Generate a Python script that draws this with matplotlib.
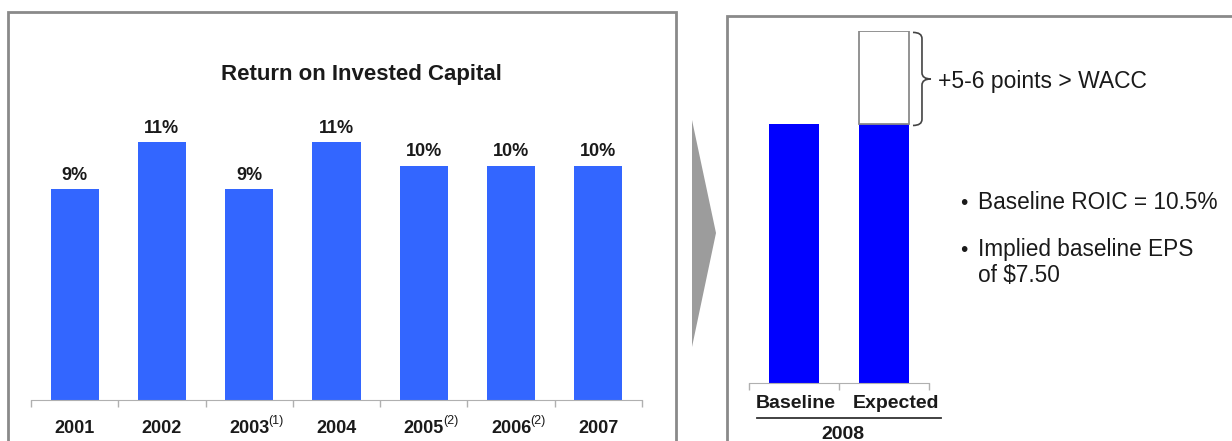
import matplotlib
matplotlib.use("Agg")
import matplotlib.pyplot as plt
from matplotlib.patches import Rectangle, Polygon, PathPatch
from matplotlib.path import Path
from matplotlib.lines import Line2D
from matplotlib.transforms import ScaledTranslation

plt.rcParams['font.family'] = ['Liberation Sans', 'DejaVu Sans']

# data
years = ["2001", "2002", "2003", "2004", "2005", "2006", "2007"]
footnotes = ["", "", "(1)", "", "(2)", "(2)", ""]
roic = [9, 11, 9, 11, 10, 10, 10]
roic_labels = ["9%", "11%", "9%", "11%", "10%", "10%", "10%"]

cases = ["Baseline", "Expected"]
baseline_roic = [10.5, 10.5]
expected_extra = [0, 3.8]

W, H = 1232, 441
fig = plt.figure(figsize=(W / 100, H / 100), dpi=100)
fig.patch.set_facecolor("white")

TXT = "#1a1a1a"
GRAY = "#8a8a8a"


def fx(x):
    return x / W


def fy(y):
    return 1 - y / H


def px_axes(x0, y0, x1, y1):
    return fig.add_axes([fx(x0), fy(y1), (x1 - x0) / W, (y1 - y0) / H])


# panel frames
fig.patches.append(Rectangle((fx(7.5), fy(460)), fx(676 - 7.5), (460 - 11.5) / H,
                             transform=fig.transFigure, fill=False, ec=GRAY, lw=2))
fig.patches.append(Rectangle((fx(727), fy(460)), fx(1260 - 727), (460 - 15.5) / H,
                             transform=fig.transFigure, fill=False, ec=GRAY, lw=2))

# grey arrow between panels
fig.patches.append(Polygon([(fx(692), fy(120)), (fx(716), fy(233)), (fx(692), fy(347))],
                           closed=True, transform=fig.transFigure, fc="#9c9c9c", ec="none"))

# left chart
ax = px_axes(31, 100, 642, 399.5)
pos = list(range(len(years)))
ax.bar(pos, roic, width=0.55, color="#3366ff", zorder=2)
for p, v, lab in zip(pos, roic, roic_labels):
    ax.annotate(lab, (p, v), xytext=(0, 6.5), textcoords="offset points",
                ha="center", va="baseline", fontsize=13, fontweight="bold", color=TXT)
ax.set_xlim(-0.5, len(years) - 0.5)
ax.set_ylim(0, 12.8)
ax.set_xticks(pos)
ax.set_xticklabels(years, fontsize=13, fontweight="bold", color=TXT)
ax.set_xticks([p - 0.5 for p in pos] + [len(years) - 0.5], minor=True)
ax.tick_params(axis="x", which="major", length=0, pad=15)
ax.tick_params(axis="x", which="minor", length=5, color="#b0b0b0", width=1)
ax.set_yticks([])
for s in ["top", "left", "right"]:
    ax.spines[s].set_visible(False)
ax.spines["bottom"].set_color("#b0b0b0")
ax.patch.set_alpha(0)

# footnote marks after some years
for p, note in zip(pos, footnotes):
    if note:
        ax.annotate(note, xy=(p, 0), xycoords=("data", "axes fraction"),
                    xytext=(13.8, -17.5), textcoords="offset points",
                    ha="left", va="baseline", fontsize=9, color=TXT)

fig.text(fx(361.5), fy(80), "Return on Invested Capital", ha="center", va="baseline",
         fontsize=16, fontweight="bold", color=TXT)

# right chart
ax2 = px_axes(749, 30.7, 929, 382.7)
pos2 = list(range(len(cases)))
ax2.bar(pos2, baseline_roic, width=0.556, color="#0000ff", zorder=2)
ax2.bar(pos2[1], expected_extra[1], bottom=baseline_roic[1], width=0.556,
        color="white", edgecolor=GRAY, linewidth=1.3, zorder=2)
ax2.set_xlim(-0.5, len(cases) - 0.5)
ax2.set_ylim(0, 14.3)
ax2.set_xticks(pos2)
ax2.set_xticklabels(cases, fontsize=14, fontweight="bold", color=TXT)
ax2.set_xticks([-0.5, 0.5, 1.5], minor=True)
ax2.tick_params(axis="x", which="major", length=0, pad=9)
ax2.tick_params(axis="x", which="minor", length=5, color="#b0b0b0", width=1)
ax2.set_yticks([])
for s in ["top", "left", "right"]:
    ax2.spines[s].set_visible(False)
ax2.spines["bottom"].set_color("#b0b0b0")
ax2.patch.set_alpha(0)
# the labels sit a little right of the bar centres
for lab, shift in zip(ax2.get_xticklabels(), [2, 12]):
    lab.set_transform(lab.get_transform() + ScaledTranslation(shift / 100, 0, fig.dpi_scale_trans))

# brace next to the expected increment
y0 = baseline_roic[1] - 0.05
y1 = baseline_roic[1] + expected_extra[1] - 0.07
ym = (y0 + y1) / 2
x0, w, d = 1.322, 0.1, 0.25
verts = [(x0, y1), (x0 + w, y1), (x0 + w, y1 - d),
         (x0 + w, ym + d),
         (x0 + w, ym), (x0 + 2 * w, ym),
         (x0 + w, ym), (x0 + w, ym - d),
         (x0 + w, y0 + d),
         (x0 + w, y0), (x0, y0)]
codes = [Path.MOVETO, Path.CURVE3, Path.CURVE3,
         Path.LINETO,
         Path.CURVE3, Path.CURVE3,
         Path.CURVE3, Path.CURVE3,
         Path.LINETO,
         Path.CURVE3, Path.CURVE3]
ax2.add_patch(PathPatch(Path(verts, codes), fill=False, ec="#444444", lw=1.2, clip_on=False))

fig.text(fx(938), fy(88), "+5-6 points > WACC", ha="left", va="baseline",
         fontsize=16.5, color=TXT)

# bullets
fig.text(fx(960), fy(209), "\u2022", ha="left", va="baseline", fontsize=15, color=TXT)
fig.text(fx(978), fy(209), "Baseline ROIC = 10.5%", ha="left", va="baseline",
         fontsize=16.3, color=TXT)
fig.text(fx(960), fy(256), "\u2022", ha="left", va="baseline", fontsize=15, color=TXT)
fig.text(fx(978), fy(256), "Implied baseline EPS", ha="left", va="baseline",
         fontsize=16.3, color=TXT)
fig.text(fx(978), fy(282), r"of \$7.50", ha="left", va="baseline",
         fontsize=16.3, color=TXT)

# group label under the right chart
fig.add_artist(Line2D([fx(757), fx(941)], [fy(418), fy(418)], color="#333333", lw=1.3))
fig.text(fx(842.5), fy(439), "2008", ha="center", va="baseline",
         fontsize=14, fontweight="bold", color=TXT)

fig.savefig("out.png", dpi=100, facecolor="white")
